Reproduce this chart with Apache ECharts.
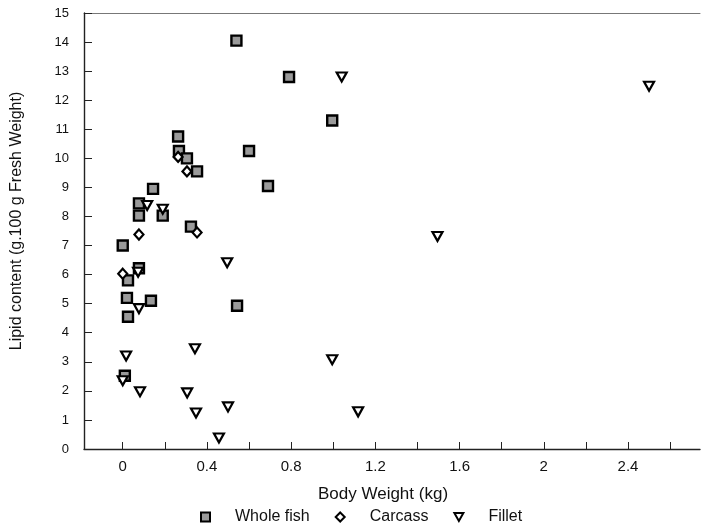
<!DOCTYPE html>
<html>
<head>
<meta charset="utf-8">
<script src="https://cdn.jsdelivr.net/npm/echarts@6/dist/echarts.min.js"></script>
<style>
  html, body { margin: 0; padding: 0; background: #fff; }
  #chart { width: 702px; height: 527px; }
</style>
</head>
<body>
<div id="chart"></div>
<script>
// Body weight (kg) vs lipid content (g/100 g fresh weight)
const wholeFishX = [0.54, 0.79, 0.995, 0.60, 0.69, 0.263, 0.267, 0.305, 0.353, 0.144, 0.077, 0.077, 0.19, 0.324, 0.0, 0.025, 0.077, 0.02, 0.134, 0.543, 0.025, 0.01];
const wholeFishY = [14.05, 12.8, 11.3, 10.25, 9.05, 10.75, 10.25, 10.0, 9.55, 8.95, 8.45, 8.03, 8.03, 7.65, 7.0, 5.8, 6.22, 5.2, 5.1, 4.93, 4.55, 2.52];

const carcassX = [0.263, 0.305, 0.077, 0.353, 0.0];
const carcassY = [10.05, 9.55, 7.38, 7.45, 6.03];

const filletX = [1.04, 2.5, 1.495, 0.496, 0.19, 0.116, 0.073, 0.077, 0.016, 0.343, 0.082, 0.306, 0.348, 0.5, 0.457, 0.995, 1.118, 0.0];
const filletY = [12.8, 12.48, 7.31, 6.41, 8.25, 8.38, 6.08, 4.83, 3.2, 3.45, 1.97, 1.93, 1.24, 1.45, 0.38, 3.07, 1.28, 2.35];

const xLabelValues = [0, 0.4, 0.8, 1.2, 1.6, 2, 2.4];
const xTickValues = [0, 0.2, 0.4, 0.6, 0.8, 1.0, 1.2, 1.4, 1.6, 1.8, 2.0, 2.2, 2.4, 2.6];

const seriesNames = ['Whole fish', 'Carcass', 'Fillet'];

function pairs(xs, ys) { return xs.map((x, i) => [x, ys[i]]); }

const FONT = 'Liberation Sans';
const downTriangle = 'path://M0,0 L10,0 L5,9 Z';

const chart = echarts.init(document.getElementById('chart'), null, { renderer: 'canvas' });

chart.setOption({
  animation: false,
  backgroundColor: '#fff',
  grid: { left: 84, right: 2, top: 13, bottom: 78, containLabel: false },
  xAxis: [{
    type: 'value',
    min: -0.184,
    max: 2.742,
    splitLine: { show: false },
    axisLine: { onZero: false, lineStyle: { color: '#222', width: 1.4 } },
    axisTick: { inside: true, length: 7, customValues: xTickValues, lineStyle: { color: '#222', width: 1 } },
    axisLabel: {
      customValues: xLabelValues, margin: 10, color: '#111',
      fontFamily: FONT, fontSize: 15,
      formatter: v => String(v)
    }
  }, {
    type: 'value',
    position: 'top',
    min: -0.184,
    max: 2.742,
    splitLine: { show: false },
    axisLine: { onZero: false, lineStyle: { color: '#777', width: 1 } },
    axisTick: { show: false },
    axisLabel: { show: false }
  }],
  yAxis: {
    type: 'value',
    min: 0,
    max: 15,
    interval: 1,
    splitLine: { show: false },
    axisLine: { onZero: false, lineStyle: { color: '#222', width: 1.4 } },
    axisTick: { inside: true, length: 8, lineStyle: { color: '#222', width: 1 } },
    axisLabel: { margin: 15, color: '#111', fontFamily: FONT, fontSize: 13 }
  },
  legend: {
    left: 200,
    top: 509,
    padding: 0,
    itemGap: 25,
    itemWidth: 9,
    itemHeight: 9,
    data: seriesNames,
    textStyle: { fontFamily: FONT, fontSize: 16, color: '#111', padding: [0, 0, 0, 20] }
  },
  graphic: [
    {
      type: 'text',
      x: 383, y: 494,
      style: { text: 'Body Weight (kg)', font: '17px "Liberation Sans"', fill: '#111', align: 'center', verticalAlign: 'middle' }
    },
    {
      type: 'text',
      x: 17, y: 221,
      rotation: Math.PI / 2,
      style: { text: 'Lipid content (g.100 g Fresh Weight)', font: '16px "Liberation Sans"', fill: '#111', align: 'center', verticalAlign: 'middle' }
    }
  ],
  series: [
    {
      name: seriesNames[0],
      type: 'scatter',
      symbol: 'rect',
      symbolSize: 10,
      data: pairs(wholeFishX, wholeFishY),
      itemStyle: { color: '#9a9a9a', borderColor: '#000', borderWidth: 2.4, opacity: 1 },
      z: 3
    },
    {
      name: seriesNames[1],
      type: 'scatter',
      symbol: 'diamond',
      symbolSize: [9, 10],
      data: pairs(carcassX, carcassY),
      itemStyle: { color: '#fff', borderColor: '#000', borderWidth: 2.2, opacity: 1 },
      z: 4
    },
    {
      name: seriesNames[2],
      type: 'scatter',
      symbol: downTriangle,
      symbolSize: [10, 9],
      data: pairs(filletX, filletY),
      itemStyle: { color: '#fff', borderColor: '#000', borderWidth: 2.2, opacity: 1 },
      z: 5
    }
  ]
});
</script>
</body>
</html>
